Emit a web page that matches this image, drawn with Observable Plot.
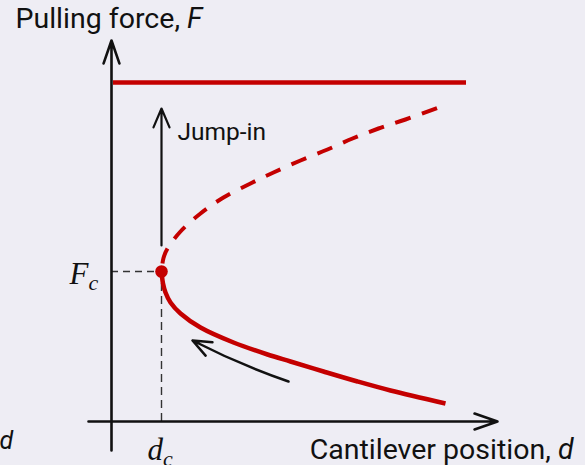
<!DOCTYPE html>
<html>
<head>
<meta charset="utf-8">
<script src="https://cdn.jsdelivr.net/npm/d3@7"></script>
<script src="https://cdn.jsdelivr.net/npm/@observablehq/plot@0.6"></script>
<style>
  html, body { margin: 0; padding: 0; background: #eeedf4; }
  #chart svg { display: block; background: #eeedf4; }
</style>
</head>
<body>
<div id="chart"></div>
<script>
// Critical point of the force–position curve (saddle-node)
const dc = 1;
const Fc = 3;

// Force plateau reached after the jump-in
const plateauF = 6.78;
const plateauD = [0.04, 7.1];

// Stable branch (solid), running out from the critical point
const stableD = [1.00, 1.03, 1.08, 1.18, 1.38, 1.78, 2.44, 3.12, 3.58, 4.24, 4.92, 5.58, 6.68];
const stableF = [3.00, 2.76, 2.58, 2.38, 2.16, 1.88, 1.58, 1.34, 1.20, 1.00, 0.80, 0.62, 0.36];

// Unstable branch (dashed)
const unstableD = [1.00, 1.04, 1.12, 1.38, 1.78, 2.24, 2.78, 3.24, 3.78, 4.32, 4.82, 5.34, 5.88, 6.54];
const unstableF = [3.00, 3.27, 3.46, 3.80, 4.16, 4.48, 4.76, 4.98, 5.22, 5.44, 5.66, 5.86, 6.04, 6.28];

// Axis extents (data units)
const dAxis = [-0.46, 7.72];
const FAxis = [-0.58, 7.62];

// Jump-in arrow and the approach arrow along the stable branch
const jumpF = [3.52, 6.26];
const approachStart = {d: 3.54, F: 0.80};
const approachEnd = {d: 1.62, F: 1.62};

const red = "#c40000";
const ink = "#111111";

const stable = stableD.map((d, i) => ({d, F: stableF[i]}));
const unstable = unstableD.map((d, i) => ({d, F: unstableF[i]}));

const sans = "Roboto, 'Noto Sans', sans-serif";
const serif = "'Liberation Serif', 'DejaVu Serif', serif";

const chart = Plot.plot({
  width: 585,
  height: 465,
  marginLeft: 88,
  marginRight: 88,
  marginTop: 40,
  marginBottom: 15,
  style: {background: "#eeedf4", overflow: "visible"},
  x: {domain: dAxis, axis: null},
  y: {domain: FAxis, axis: null},
  marks: [
    // guide lines to the critical point
    Plot.ruleY([Fc], {x1: 0, x2: dc, stroke: "#333", strokeWidth: 1.4, strokeDasharray: "7,5"}),
    Plot.ruleX([dc], {y1: 0, y2: Fc, stroke: "#333", strokeWidth: 1.4, strokeDasharray: "8,5"}),
    // axes
    Plot.arrow([{x1: dAxis[0], x2: dAxis[1]}], {x1: "x1", x2: "x2", y1: 0, y2: 0,
      stroke: ink, strokeWidth: 2.6, headAngle: 38, headLength: 14}),
    Plot.arrow([{y1: FAxis[0], y2: FAxis[1]}], {y1: "y1", y2: "y2", x1: 0, x2: 0,
      stroke: ink, strokeWidth: 2.6, headAngle: 38, headLength: 14}),
    // force plateau
    Plot.ruleY([plateauF], {x1: plateauD[0], x2: plateauD[1], stroke: red, strokeWidth: 4.5}),
    // unstable branch
    Plot.line(unstable, {x: "d", y: "F", curve: "catmull-rom", stroke: red, strokeWidth: 4,
      strokeDasharray: "16,12", strokeDashoffset: 20, strokeLinecap: "butt"}),
    // stable branch
    Plot.line(stable, {x: "d", y: "F", curve: "catmull-rom", stroke: red, strokeWidth: 4.5,
      strokeLinecap: "butt"}),
    // critical point
    Plot.dot([{d: dc, F: Fc}], {x: "d", y: "F", r: 6.3, fill: red, stroke: null}),
    // jump-in arrow
    Plot.arrow([{y1: jumpF[0], y2: jumpF[1]}], {y1: "y1", y2: "y2", x1: dc, x2: dc,
      stroke: ink, strokeWidth: 2.2, headAngle: 46, headLength: 14}),
    // approach arrow
    Plot.arrow([{}], {x1: approachStart.d, y1: approachStart.F, x2: approachEnd.d, y2: approachEnd.F,
      stroke: ink, strokeWidth: 2.5, bend: 4, headAngle: 44, headLength: 12}),
    // labels
    Plot.text(["Pulling force, *F*"], {x: -1.92, y: 7.874, text: (d) => d, textAnchor: "start",
      lineAnchor: "bottom", fontSize: 28.5, fontFamily: sans, fill: ink}),
    Plot.text(["Cantilever position, *d*"], {x: 9.24, y: -0.75, text: (d) => d, textAnchor: "end",
      lineAnchor: "bottom", fontSize: 28.5, fontFamily: sans, fill: ink}),
    Plot.text(["*d*"], {x: -2.24, y: -0.54, text: (d) => d, textAnchor: "start",
      lineAnchor: "bottom", fontSize: 25, fontFamily: sans, fill: ink}),
    Plot.text(["Jump-in"], {x: 1.32, y: 5.64, text: (d) => d, textAnchor: "start",
      lineAnchor: "bottom", fontSize: 24.5, fontFamily: sans, fill: ink}),
    Plot.text(["F_c"], {x: -0.84, y: 2.76, text: (d) => d, textAnchor: "start",
      lineAnchor: "bottom", fontSize: 31, fontFamily: serif, fontStyle: "italic", fill: ink}),
    Plot.text(["d_c"], {x: 0.72, y: -0.76, text: (d) => d, textAnchor: "start",
      lineAnchor: "bottom", fontSize: 31, fontFamily: serif, fontStyle: "italic", fill: ink})
  ]
});

// Italic variables (*x*) and subscripts (a_b) inside label text
const ns = "http://www.w3.org/2000/svg";
chart.querySelectorAll("text").forEach((t) => {
  const s = t.textContent;
  let m;
  if ((m = s.match(/^(.*)\*(.+)\*$/))) {
    t.textContent = m[1];
    const ts = document.createElementNS(ns, "tspan");
    ts.setAttribute("font-style", "italic");
    ts.textContent = m[2];
    t.appendChild(ts);
  } else if ((m = s.match(/^(.)_(.)$/))) {
    t.textContent = m[1];
    const ts = document.createElementNS(ns, "tspan");
    ts.setAttribute("font-size", "22");
    ts.setAttribute("dy", "6");
    ts.textContent = m[2];
    t.appendChild(ts);
  }
});

document.getElementById("chart").appendChild(chart);
</script>
</body>
</html>
